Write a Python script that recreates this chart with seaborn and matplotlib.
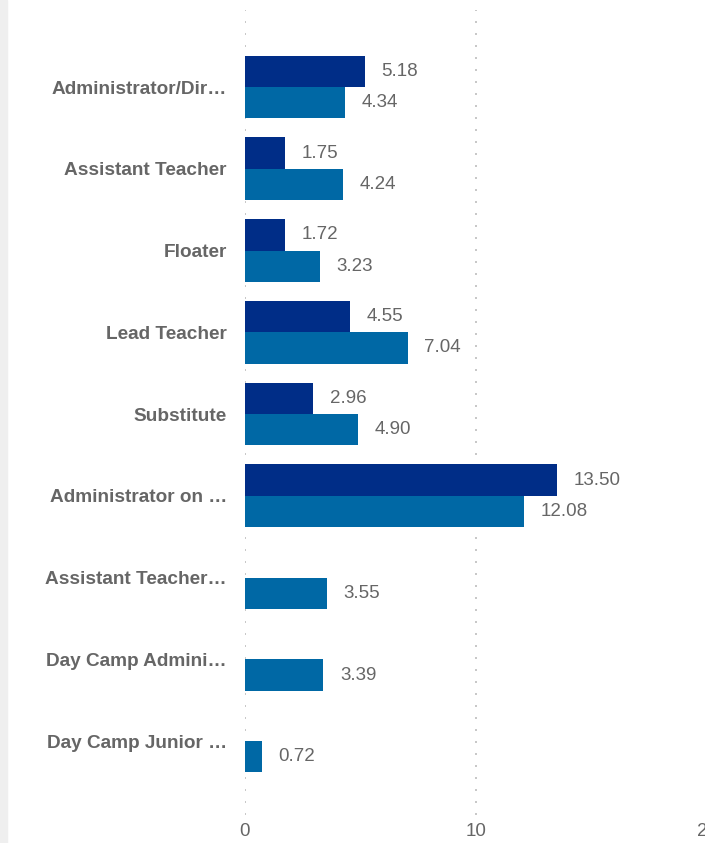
import numpy as np
import pandas as pd
import seaborn as sns
import matplotlib.pyplot as plt
from matplotlib.patches import Rectangle

sns.set_style("white")
plt.rcParams['font.family'] = ['Liberation Sans', 'DejaVu Sans']

# data
categories = ['Administrator/Dir…', 'Assistant Teacher', 'Floater', 'Lead Teacher',
              'Substitute', 'Administrator on …', 'Assistant Teacher…',
              'Day Camp Admini…', 'Day Camp Junior …']
series_names = ['Series 1', 'Series 2']
values_dark = [5.18, 1.75, 1.72, 4.55, 2.96, 13.50, np.nan, np.nan, np.nan]
values_light = [4.34, 4.24, 3.23, 7.04, 4.90, 12.08, 3.55, 3.39, 0.72]
x_ticks = [0, 10, 20]

colors = ['#002D87', '#0068A5']
text_grey = '#666666'

df = pd.DataFrame({
    'Category': categories * 2,
    'Series': [series_names[0]] * len(categories) + [series_names[1]] * len(categories),
    'Value': values_dark + values_light,
}).dropna()

fig = plt.figure(figsize=(7.05, 8.43), dpi=100)
W, H = 705, 843
# axes placed in pixel terms; it runs past the right edge on purpose
ax = fig.add_axes([245 / W, (H - 815) / H, 462 / W, 805 / H])

sns.barplot(data=df, y='Category', x='Value', hue='Series', order=categories,
            hue_order=series_names, palette=colors, width=0.77, gap=0,
            saturation=1, linewidth=0, legend=False, ax=ax, zorder=3)

for cont in ax.containers:
    ax.bar_label(cont, fmt='%.2f', padding=12, fontsize=13.5, color=text_grey)

ax.set_xlim(0, 20)
ax.set_ylim(8.905, -0.942)
ax.set_xticks(x_ticks)
ax.set_xlabel('')
ax.set_ylabel('')
for xv in x_ticks:
    ax.axvline(xv, color='#c8c8c8', lw=1.44, ls=(0, (1, 5)), zorder=1)

ax.tick_params(axis='x', length=0, pad=6, labelsize=13.5, labelcolor=text_grey)
ax.tick_params(axis='y', length=0, pad=13, labelsize=13.7, labelcolor=text_grey)
for lab in ax.get_yticklabels():
    lab.set_fontweight('bold')
sns.despine(ax=ax, left=True, bottom=True)

# faint shadow strip on the left edge
fig.patches.append(Rectangle((0, 0), 7 / W, 1, transform=fig.transFigure,
                             color='#efefef', zorder=0))

fig.savefig('out.png', dpi=100)
